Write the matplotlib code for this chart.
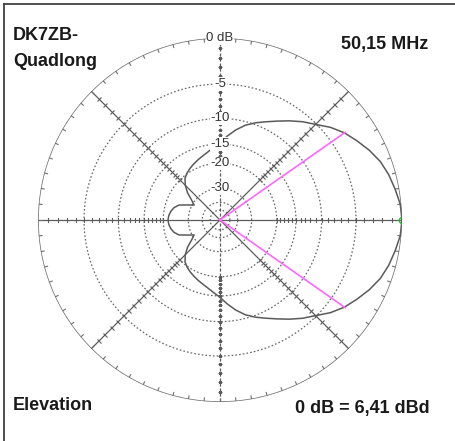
import numpy as np
import matplotlib
matplotlib.use("Agg")
import matplotlib.pyplot as plt
from matplotlib.markers import MarkerStyle
from matplotlib.transforms import Affine2D
from matplotlib.lines import Line2D

# elevation pattern, upper half (deg from horizon -> relative dB), mirrored below
angles_deg = [0, 5, 10, 15, 20, 25, 30, 35, 40, 45, 50, 55, 60, 65, 70, 75,
              80, 85, 90, 95, 100, 105, 110, 115, 120, 125, 130, 135, 140,
              145, 150, 155, 160, 165, 170, 175, 180]
gain_db = [0.0, -0.1, -0.4, -0.7, -1.1, -1.7, -2.4, -3.1, -4.0, -5.1, -6.0,
           -7.0, -8.0, -8.9, -9.7, -10.6, -11.8, -13.2, -14.7, -15.7, -16.6,
           -17.3, -17.9, -18.5, -19.1, -19.8, -20.7, -22.5, -25.0, -28.5,
           -31.0, -28.0, -24.5, -23.0, -22.2, -21.7, -21.5]

ring_db = [0, -5, -10, -15, -20, -30, -40, -50]
ring_labels = ["0 dB", "-5", "-10", "-15", "-20", "-30"]
beam_edge_deg = 35
beam_edge_db = -3.0

title_lines = ["DK7ZB-", "Quadlong"]
freq_text = "50,15 MHz"
plane_text = "Elevation"
ref_text = "0 dB = 6,41 dBd"


def rad(db):
    # ARRL log scale: radius shrinks by 0.89 every 2 dB
    return 0.89 ** (-np.asarray(db, dtype=float) / 2.0)


W, H = 455, 441
fig = plt.figure(figsize=(W / 100, H / 100), dpi=100)
fig.patch.set_facecolor("white")

cx, cy, R = 220, 220, 182
ax = fig.add_axes([(cx - R) / W, (H - cy - R) / H, 2 * R / W, 2 * R / H],
                  projection="polar")
ax.axis("off")
ax.set_ylim(0, 1)

grey = "#707070"

# outer circle + 5 degree ticks
t = np.linspace(0, 2 * np.pi, 721)
ax.plot(t, np.ones_like(t), color=grey, lw=1.1, zorder=3)
tick_t = np.deg2rad(np.arange(0, 360, 5))
ax.vlines(tick_t, 1 - 4 / R, 1, color=grey, lw=0.8, zorder=3)

# dotted rings
for db in ring_db[1:]:
    ax.plot(t, np.full_like(t, rad(db)), color="#666666", lw=0.9,
            linestyle=(0, (1.3, 1.7)), zorder=2)

# spokes with ticks
tick_r = rad(np.arange(-1, -21, -1))
for a in [0, 45, 135, 90]:
    th = np.deg2rad([a, a + 180])
    ls = (0, (2.5, 1.5)) if a == 90 else "-"
    ax.plot([th[0], 0, th[1]], [1, 0, 1], color="#5c5c5c", lw=0.9,
            linestyle=ls, zorder=2)
    mk = MarkerStyle("|", transform=Affine2D().rotate_deg(a))
    for tt in th:
        ax.plot(np.full_like(tick_r, tt), tick_r, linestyle="none", marker=mk,
                markersize=3.4, markeredgewidth=0.8, color="#5c5c5c", zorder=2)

# pattern
th_up = np.deg2rad(angles_deg)
th_all = np.concatenate([th_up, 2 * np.pi - th_up[::-1]])
db_all = np.concatenate([gain_db, gain_db[::-1]])
ax.plot(th_all, rad(db_all), color="#5a5a5a", lw=1.1, zorder=4)

# -3 dB beam edges
for s in (1, -1):
    ax.plot([0, np.deg2rad(s * beam_edge_deg)], [0, rad(beam_edge_db)],
            color="#ff66ff", lw=1.2, zorder=5)

ax.plot([0], [1], marker="o", markersize=4.5, markerfacecolor="none",
        markeredgecolor="#22bb22", markeredgewidth=1.0, zorder=6)

# ring labels on vertical axis
for db, lab in zip(ring_db, ring_labels):
    ax.text(np.pi / 2, rad(db), lab, ha="center", va="center", fontsize=9.5,
            family="Liberation Sans", color="#333333", zorder=7,
            bbox=dict(boxstyle="square,pad=0.05", fc="white", ec="none"))

# annotations
fk = dict(family="Liberation Sans", fontweight="bold", fontsize=13,
          color="#1a1a1a")
fig.text(13 / W, 1 - 36 / H, title_lines[0], ha="left", va="center", **fk)
fig.text(13 / W, 1 - 62 / H, title_lines[1], ha="left", va="center", **fk)
fig.text(428 / W, 1 - 44 / H, freq_text, ha="right", va="center", **fk)
fig.text(13 / W, 1 - 406 / H, plane_text, ha="left", va="center", **fk)
fig.text(430 / W, 1 - 408 / H, ref_text, ha="right", va="center", **fk)

# frame edges
fig.add_artist(Line2D([4 / W, 4 / W], [0, 1 - 4 / H], color="#404040", lw=1.3))
fig.add_artist(Line2D([4 / W, 1], [1 - 4 / H, 1 - 4 / H], color="#404040", lw=1.3))

fig.savefig("out.png", dpi=100, facecolor="white")
